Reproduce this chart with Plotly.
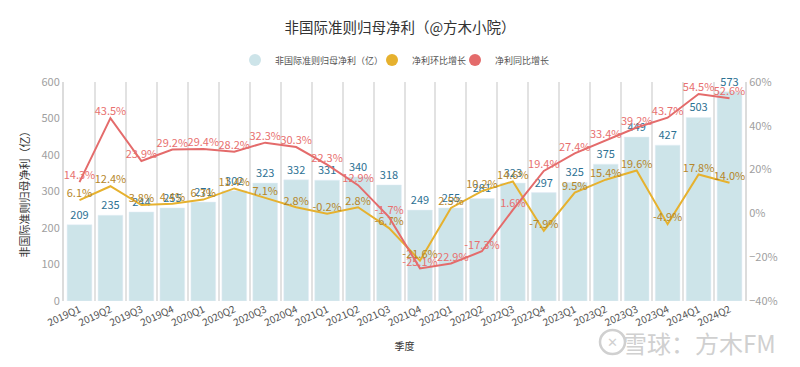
import plotly.graph_objects as go

quarters = ["2019Q1", "2019Q2", "2019Q3", "2019Q4", "2020Q1", "2020Q2", "2020Q3", "2020Q4",
            "2021Q1", "2021Q2", "2021Q3", "2021Q4", "2022Q1", "2022Q2", "2022Q3", "2022Q4",
            "2023Q1", "2023Q2", "2023Q3", "2023Q4", "2024Q1", "2024Q2"]
net_profit = [209, 235, 244, 255, 271, 302, 323, 332, 331, 340, 318, 249, 255, 281, 323, 297,
              325, 375, 449, 427, 503, 573]
qoq_growth = [6.1, 12.4, 3.8, 4.4, 6.3, 11.4, 7.1, 2.8, -0.2, 2.8, -6.7, -21.6, 2.5, 10.2, 14.6, -7.9,
              9.5, 15.4, 19.6, -4.9, 17.8, 14.0]
yoy_growth = [14.3, 43.5, 23.9, 29.2, 29.4, 28.2, 32.3, 30.3, 22.3, 12.9, -1.7, -25.1, -22.9, -17.3, 1.6, 19.4,
              27.4, 33.4, 39.2, 43.7, 54.5, 52.6]

FONT = "Noto Sans CJK SC"
BAR_C = "#cde4e9"
QOQ_C = "#e6b12e"
YOY_C = "#e46b6b"

# the page body adds an 8px offset; the figure is sized to fill the rest of the window
W, H = 792, 359
L, R, T, B = 56, 55, 74, 66
PW, PH = W - L - R, H - T - B


def px_x(x):  # window x -> paper x
    return (x - 8 - L) / PW


def px_y(y):  # window y -> paper y
    return (H - B - (y - 8)) / PH


fig = go.Figure()
fig.add_trace(go.Bar(
    x=quarters, y=net_profit, marker_color=BAR_C, showlegend=False,
    text=[str(v) for v in net_profit], textposition="outside",
    textfont=dict(color="#2d7193", size=11, family=FONT), cliponaxis=False,
    name="非国际准则归母净利（亿）"))
fig.add_trace(go.Scatter(
    x=quarters, y=qoq_growth, yaxis="y2", mode="lines+text", showlegend=False,
    line=dict(color=QOQ_C, width=2),
    text=[f"{v:.1f}%" for v in qoq_growth], textposition="top center",
    textfont=dict(color="#b5862a", size=11, family=FONT), cliponaxis=False,
    name="净利环比增长"))
fig.add_trace(go.Scatter(
    x=quarters, y=yoy_growth, yaxis="y2", mode="lines+text", showlegend=False,
    line=dict(color=YOY_C, width=2),
    text=[f"{v:.1f}%" for v in yoy_growth], textposition="top center",
    textfont=dict(color="#e8706f", size=11, family=FONT), cliponaxis=False,
    name="净利同比增长"))

# legend entries (circle markers), each in its own legend box
legend_items = [("非国际准则归母净利（亿）", BAR_C, "legend", 254),
                ("净利环比增长", QOQ_C, "legend2", 391),
                ("净利同比增长", YOY_C, "legend3", 474)]
legend_layout = {}
for nm, c, lg, cx in legend_items:
    fig.add_trace(go.Scatter(x=[None], y=[None], mode="markers", name=nm, legend=lg,
                             marker=dict(color=c, size=11, symbol="circle")))
    legend_layout[lg] = dict(orientation="h", x=px_x(cx - 19), xanchor="left", y=px_y(60), yanchor="middle",
                             font=dict(size=9, color="#555", family=FONT), itemsizing="constant",
                             itemwidth=30, bgcolor="rgba(0,0,0,0)")

fig.update_layout(
    width=W, height=H,
    margin=dict(l=L, r=R, t=T, b=B),
    paper_bgcolor="white", plot_bgcolor="white",
    font=dict(family=FONT, color="#333"),
    title=dict(text="非国际准则归母净利（@方木小院）", x=0.5 + (400 - 8 - W / 2) / W, xanchor="center",
               y=1 - (28 - 8) / H, yanchor="middle",
               font=dict(size=14.5, color="#333", family=FONT)),
    bargap=0.2,
    xaxis=dict(type="category", range=[-0.5, len(quarters) - 0.5], tickson="boundaries",
               showgrid=True, gridcolor="#e2e2e2", gridwidth=2,
               tickangle=-25, tickfont=dict(size=10, color="#555", family=FONT), ticks="",
               showline=False, zeroline=False, automargin=False,
               title=dict(text="季度", font=dict(size=10, color="#333", family=FONT), standoff=14)),
    yaxis=dict(range=[0, 600], dtick=100, showgrid=False, zeroline=False, automargin=False,
               showline=True, linecolor="#dcdcdc", linewidth=2,
               tickfont=dict(size=11, color="#a0a0a0", family=FONT), ticks="",
               title=dict(text="非国际准则归母净利（亿）", font=dict(size=11, color="#333", family=FONT),
                          standoff=10)),
    yaxis2=dict(range=[-40, 60], dtick=20, overlaying="y", side="right", showgrid=False, automargin=False,
                zeroline=False, ticksuffix="%", showline=True, linecolor="#dcdcdc", linewidth=2,
                tickfont=dict(size=11, color="#a0a0a0", family=FONT), ticks=""),
    **legend_layout,
)

# watermark
fig.add_annotation(text="雪球：方木FM", xref="paper", yref="paper", x=px_x(778), y=px_y(342),
                   xanchor="right", yanchor="middle", showarrow=False,
                   font=dict(size=24, color="#d0d0d0", family=FONT))
fig.add_shape(type="circle", xref="paper", yref="paper",
              x0=px_x(600), x1=px_x(625), y0=px_y(354), y1=px_y(330),
              line=dict(color="#d0d0d0", width=2.5))
fig.add_annotation(text="✕", xref="paper", yref="paper", x=px_x(612.5), y=px_y(342),
                   xanchor="center", yanchor="middle", showarrow=False,
                   font=dict(size=13, color="#d0d0d0", family="DejaVu Sans"))

fig.write_html("out.html")
